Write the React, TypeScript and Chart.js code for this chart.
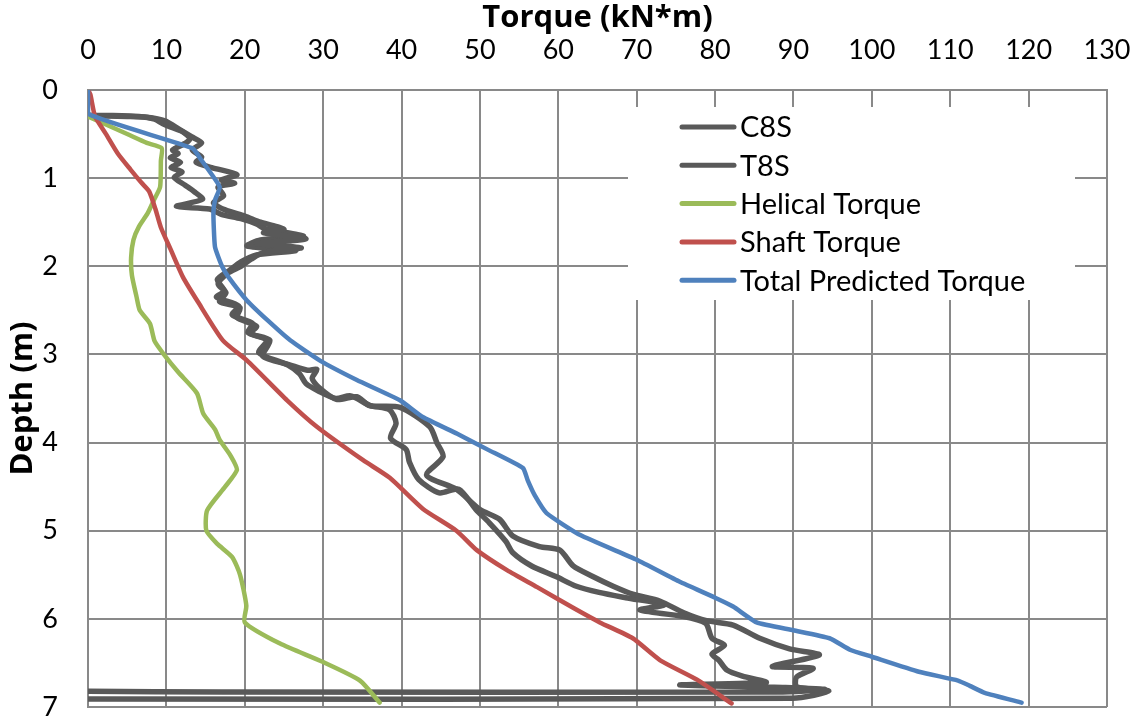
import React, { useEffect, useRef } from 'react';
import { Chart, registerables } from 'chart.js';

Chart.register(...registerables);

// ---- Data (torque kN*m vs depth m) ----
const c8sTorque = [0, 3, 6.5, 8.5, 9.5, 10.5, 12, 13, 12.5, 10.8, 11.5, 10.5, 11.8, 10.6, 12, 11, 12.4, 13.5, 14.6, 11.3, 15.5, 17, 19.5, 21.5, 22.5, 27.5, 22, 20.3, 26.5, 21.5, 19.5, 18, 16.5, 17.4, 16.4, 19.2, 18.4, 21, 20.4, 22.8, 21.8, 25.5, 27, 27.8, 29.5, 31.6, 33.5, 36, 38.5, 39.3, 38.6, 40.6, 41, 42.2, 44.8, 47.3, 49.5, 51.2, 53.3, 54.2, 56.6, 59.7, 62.3, 65.2, 68.6, 73.5, 70.4, 75.8, 78.8, 79.6, 81.2, 79.6, 80.5, 81.5, 83.5, 86.5, 75.5, 89, 94, 88, 17, 0];
const c8sDepth = [0.29, 0.29, 0.3, 0.33, 0.38, 0.42, 0.47, 0.55, 0.6, 0.68, 0.72, 0.77, 0.82, 0.88, 0.93, 0.99, 1.08, 1.15, 1.24, 1.32, 1.35, 1.41, 1.46, 1.52, 1.57, 1.66, 1.7, 1.77, 1.82, 1.87, 1.95, 2.05, 2.15, 2.28, 2.35, 2.45, 2.55, 2.65, 2.75, 2.84, 2.98, 3.12, 3.22, 3.33, 3.42, 3.5, 3.47, 3.58, 3.63, 3.78, 3.95, 4.08, 4.22, 4.42, 4.57, 4.53, 4.76, 4.91, 5.12, 5.25, 5.4, 5.52, 5.63, 5.7, 5.76, 5.84, 5.9, 5.97, 6.05, 6.22, 6.3, 6.4, 6.47, 6.58, 6.65, 6.72, 6.75, 6.78, 6.8, 6.83, 6.83, 6.82];

const t8sTorque = [0, 5, 7.5, 9.8, 11.7, 13.2, 14.5, 13.3, 14.5, 13.8, 15.8, 19, 17, 18.7, 16.6, 17.3, 16, 17.5, 20, 22, 25, 22.4, 27.8, 21.5, 27.2, 22.5, 20.8, 19.5, 17.8, 16.6, 17.6, 16.8, 19.4, 19, 21.5, 20.7, 23.2, 22.3, 25.8, 28, 29.2, 28.6, 29.4, 31.7, 34.3, 35.9, 39.8, 43.6, 44.5, 45.3, 43.2, 47, 50, 52.5, 54.2, 57.6, 60.2, 61.9, 64.4, 67, 69.5, 73, 76, 78.9, 82.3, 85.7, 89.5, 93.3, 87.3, 92.5, 90.4, 90.4, 94.5, 89.9, 0];
const t8sDepth = [0.29, 0.3, 0.31, 0.35, 0.45, 0.53, 0.6, 0.68, 0.76, 0.82, 0.88, 0.96, 1.02, 1.06, 1.1, 1.2, 1.28, 1.36, 1.43, 1.5, 1.58, 1.62, 1.69, 1.74, 1.79, 1.84, 1.92, 2.0, 2.08, 2.2, 2.3, 2.4, 2.47, 2.58, 2.68, 2.76, 2.84, 3.02, 3.12, 3.18, 3.17, 3.27, 3.37, 3.51, 3.48, 3.58, 3.6, 3.82, 4.0, 4.16, 4.37, 4.53, 4.76, 4.87, 5.06, 5.18, 5.22, 5.4, 5.52, 5.63, 5.72, 5.8, 5.93, 6.02, 6.07, 6.22, 6.34, 6.41, 6.54, 6.56, 6.66, 6.77, 6.82, 6.9, 6.91];

const helicalTorque = [0, 2, 5, 7.5, 9.4, 9.3, 9.2, 8.4, 7.6, 6.5, 5.8, 5.5, 5.6, 6.2, 6.6, 7.9, 8.5, 9.6, 11.5, 13.9, 14.7, 16.2, 16.8, 18.2, 19, 17.5, 15.2, 15.1, 16.5, 18.4, 19.4, 20.2, 20, 24.5, 30, 34.7, 37.2];
const helicalDepth = [0.3, 0.38, 0.5, 0.6, 0.66, 0.8, 1.1, 1.25, 1.4, 1.55, 1.7, 1.9, 2.1, 2.35, 2.5, 2.65, 2.85, 2.99, 3.2, 3.44, 3.67, 3.85, 3.97, 4.15, 4.31, 4.5, 4.77, 5.0, 5.15, 5.3, 5.5, 5.85, 6.04, 6.28, 6.49, 6.7, 6.95];

const shaftTorque = [0, 0.3, 0.9, 2.3, 3.8, 5.4, 6.8, 7.8, 8.6, 9.3, 10.5, 12.1, 14, 17.2, 20.3, 25.4, 29.2, 35.1, 38.5, 42.7, 47, 49.6, 53.5, 57.3, 62, 65.3, 69.5, 73, 77.7, 82.1];
const shaftDepth = [0, 0.05, 0.3, 0.5, 0.72, 0.9, 1.05, 1.15, 1.35, 1.56, 1.8, 2.12, 2.4, 2.84, 3.07, 3.52, 3.82, 4.2, 4.4, 4.75, 5.0, 5.22, 5.45, 5.64, 5.88, 6.04, 6.22, 6.47, 6.69, 6.96];

const totalTorque = [0, 0, 13.3, 14.5, 16.8, 16.2, 16, 16.2, 17.1, 17.9, 20.3, 23, 25.8, 29.6, 34.3, 39.8, 42.7, 47.1, 51, 55.5, 56.1, 57, 58.5, 62.8, 70, 75.5, 80, 82.3, 85.3, 90, 94.6, 97.2, 100, 106, 111, 112.5, 114.4, 119.1];
const totalDepth = [0, 0.27, 0.66, 0.8, 1.1, 1.25, 1.4, 1.78, 2.0, 2.12, 2.39, 2.62, 2.84, 3.07, 3.29, 3.52, 3.71, 3.9, 4.08, 4.29, 4.43, 4.6, 4.8, 5.05, 5.33, 5.58, 5.76, 5.86, 6.04, 6.13, 6.22, 6.35, 6.43, 6.6, 6.7, 6.76, 6.84, 6.95];

const seriesNames = ['C8S', 'T8S', 'Helical Torque', 'Shaft Torque', 'Total Predicted Torque'];
const seriesColors = ['#595959', '#595959', '#9BBB59', '#C0504D', '#4F81BD'];

const FONT = 'Lato, "Open Sans", sans-serif';
const TITLE_FONT = '"Open Sans", Lato, sans-serif';

function pts(xs: number[], ys: number[]) {
  return xs.map((x, i) => ({ x, y: ys[i] }));
}

const legendPlugin = {
  id: 'insideLegend',
  afterDraw(chart: any) {
    const ctx = chart.ctx;
    ctx.save();
    ctx.fillStyle = '#ffffff';
    ctx.fillRect(628, 107, 447, 193);
    ctx.font = `29px ${FONT}`;
    ctx.textBaseline = 'middle';
    ctx.textAlign = 'left';
    seriesNames.forEach((name, i) => {
      const y = 127 + i * 38.3;
      ctx.strokeStyle = seriesColors[i];
      ctx.lineWidth = 5;
      ctx.lineCap = 'round';
      ctx.beginPath();
      ctx.moveTo(682, y);
      ctx.lineTo(734, y);
      ctx.stroke();
      ctx.fillStyle = '#000000';
      ctx.fillText(name, 740, y + 1);
    });
    ctx.restore();
  },
};

export default function App() {
  const ref = useRef<HTMLCanvasElement>(null);
  useEffect(() => {
    if (!ref.current) return;
    const mk = (i: number, xs: number[], ys: number[], order: number, w: number, t: number) => ({
      label: seriesNames[i],
      data: pts(xs, ys),
      showLine: true,
      borderColor: seriesColors[i],
      backgroundColor: seriesColors[i],
      borderWidth: w,
      pointRadius: 0,
      tension: t,
      borderJoinStyle: 'round',
      borderCapStyle: 'round',
      order,
    });
    const chart = new Chart(ref.current, {
      type: 'scatter',
      data: {
        datasets: [
          mk(0, c8sTorque, c8sDepth, 4, 5.5, 0.25),
          mk(1, t8sTorque, t8sDepth, 3, 5.5, 0.25),
          mk(2, helicalTorque, helicalDepth, 2, 4.5, 0.2),
          mk(3, shaftTorque, shaftDepth, 1, 4.5, 0.2),
          mk(4, totalTorque, totalDepth, 0, 4.5, 0.15),
        ] as any,
      },
      options: {
        animation: false,
        responsive: false,
        layout: { padding: { left: 0, top: 0, right: 32, bottom: 12 } },
        plugins: { legend: { display: false }, tooltip: { enabled: false } },
        scales: {
          x: {
            type: 'linear',
            position: 'top',
            min: 0,
            max: 130,
            ticks: { stepSize: 10, color: '#000', font: { family: FONT, size: 27 }, padding: 24 },
            grid: { color: '#898989', lineWidth: 2, drawTicks: false },
            border: { color: '#898989', width: 2 },
            title: { display: true, text: 'Torque (kN*m)', color: '#000', font: { family: TITLE_FONT, size: 31, weight: 'bold' }, padding: { top: 0, bottom: 0 } },
            afterFit(scale: any) {
              scale.height = 90;
              scale.paddingLeft = 0;
              scale.paddingRight = 0;
            },
          },
          y: {
            type: 'linear',
            reverse: true,
            min: 0,
            max: 7,
            ticks: { stepSize: 1, color: '#000', font: { family: FONT, size: 27 }, padding: 30 },
            grid: { color: '#898989', lineWidth: 2, drawTicks: false },
            border: { color: '#898989', width: 2 },
            title: { display: true, text: 'Depth (m)', color: '#000', font: { family: TITLE_FONT, size: 31, weight: 'bold' }, padding: { top: 5, bottom: 0 } },
            afterFit(scale: any) {
              scale.width = 88;
              scale.paddingTop = 0;
              scale.paddingBottom = 0;
            },
          },
        },
      } as any,
      plugins: [legendPlugin],
    });
    return () => chart.destroy();
  }, []);
  return (
    <div style={{ position: 'absolute', left: 0, top: 0, width: 1139, height: 719, background: '#fff' }}>
      <canvas ref={ref} width={1139} height={719} style={{ display: 'block' }} />
    </div>
  );
}
